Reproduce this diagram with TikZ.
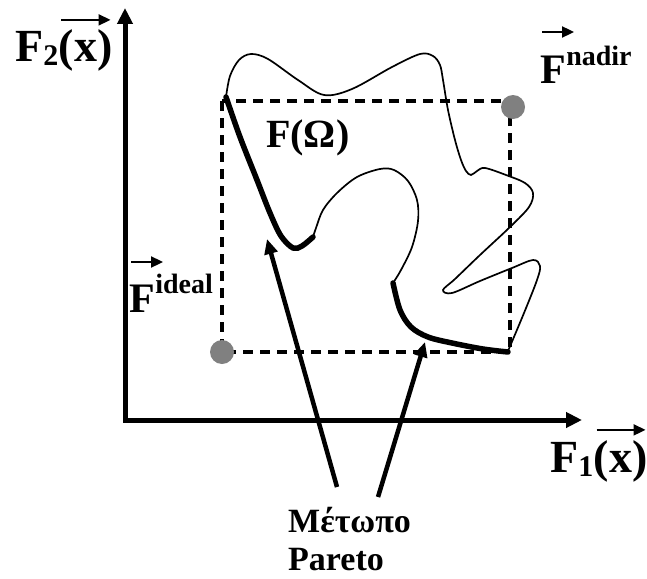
\documentclass[tikz,border=0pt]{standalone}
\usepackage{fontspec}
\setmainfont{Liberation Serif}
\usetikzlibrary{arrows.meta,positioning}

\begin{document}
\begin{tikzpicture}[x=1pt, y=-1pt,
    axis/.style={line width=5pt, line join=miter, {Triangle[length=16pt,width=15pt]}-{Triangle[length=16pt,width=15pt]}},
    box/.style={line width=4pt, dash pattern=on 10pt off 7pt},
    blob/.style={line width=1.7pt},
    front/.style={line width=5.5pt, line cap=round},
    pointer/.style={line width=4.5pt, -{Triangle[length=15pt,width=13pt]}},
    vecarr/.style={line width=2pt, -{Triangle[length=12pt,width=11pt]}},
    corner/.style={circle, fill=gray, minimum size=24pt, inner sep=0pt},
    lbl/.style={inner sep=0pt, anchor=base west, font=\fontsize{46}{50}\selectfont\bfseries},
    sup/.style={inner sep=0pt, anchor=base west, font=\fontsize{28}{30}\selectfont\bfseries},
]
\useasboundingbox (0,0) rectangle (647,578);

% axes
\coordinate (O) at (125,420);
\coordinate (ytop) at (125,8);
\coordinate (xend) at (582,420);
\draw[axis] (ytop) -- (O) -- (xend);

% ideal / nadir box
\draw[box] (222,101) rectangle (510,352);
\node[corner] (ideal) at (222,352) {};
\node[corner] (nadir) at (513,107) {};

% F(Omega) outline
\draw[blob] plot[smooth, tension=0.55] coordinates {
  (226,97) (230,76) (239,60) (251,54) (268,59) (298,80) (324,95) (352,89)
  (392,67) (420,54) (433,56) (440,65) (443,80) (448,110) (455,140) (461,160)
  (466,171) (471,175) (477,171) (485,168) (506,175) (525,183) (533,193)
  (529,207) (510,227) (480,255) (455,279) (443,290) (452,293) (480,281)
  (512,268) (533,260) (540,266) (537,280) (524,313) (508,351)};
\draw[blob] plot[smooth, tension=0.55] coordinates {
  (393,283) (401,270) (412,247) (418,221) (417,200) (408,181) (394,170)
  (380,169) (357,177) (337,193) (323,210) (316,228) (313,237)};

% Pareto fronts
\draw[front] plot[smooth, tension=0.55] coordinates {
  (226,97) (240,137) (257,180) (270,213) (281,236) (293,248) (302,246) (313,237)};
\draw[front] plot[smooth, tension=0.55] coordinates {
  (393,283) (400,310) (411,327) (428,337) (452,343) (483,349) (508,352)};

% labels
\node[lbl] (f2) at (15,62) {F\raisebox{-4pt}{\fontsize{30}{30}\selectfont\bfseries 2}};
\node[lbl] (f2x) at (f2.base east) {(x)};
\draw[vecarr] ([xshift=3pt,yshift=10pt]f2x.north west) -- ([xshift=-2pt,yshift=10pt]f2x.north east);

\node[lbl] (f1) at (550,472) {F\raisebox{-4pt}{\fontsize{30}{30}\selectfont\bfseries 1}};
\node[lbl] (f1x) at (f1.base east) {(x)};
\draw[vecarr] ([xshift=3pt,yshift=10pt]f1x.north west) -- ([xshift=-2pt,yshift=10pt]f1x.north east);

\node[lbl, font=\fontsize{42}{46}\selectfont\bfseries] (fnad) at (540,83) {F};
\node[sup] (fnadsup) at ([yshift=18pt]fnad.base east) {nadir};
\draw[vecarr] ([xshift=2pt,yshift=51pt]fnad.base west) -- ([xshift=8pt,yshift=51pt]fnad.base east);

\node[lbl, font=\fontsize{42}{46}\selectfont\bfseries] (fid) at (129,312) {F};
\node[sup] (fidsup) at ([yshift=19pt]fid.base east) {ideal};
\draw[vecarr] ([xshift=2pt,yshift=50pt]fid.base west) -- ([xshift=8pt,yshift=50pt]fid.base east);

\node[lbl, font=\fontsize{40}{44}\selectfont\bfseries] (fomega) at (266,147) {F(Ω)};

\node[inner sep=0pt, anchor=base west, align=left,
      font=\fontsize{34}{38}\selectfont\bfseries] (front) at (288,570) {Μέτωπο\\Pareto};

% pointers to the fronts
\coordinate (tail1) at (337,487);
\coordinate (tip1) at (267,239);
\coordinate (tail2) at (378,497);
\coordinate (tip2) at (425,342);
\draw[pointer] (tail1) -- (tip1);
\draw[pointer] (tail2) -- (tip2);
\end{tikzpicture}
\end{document}
